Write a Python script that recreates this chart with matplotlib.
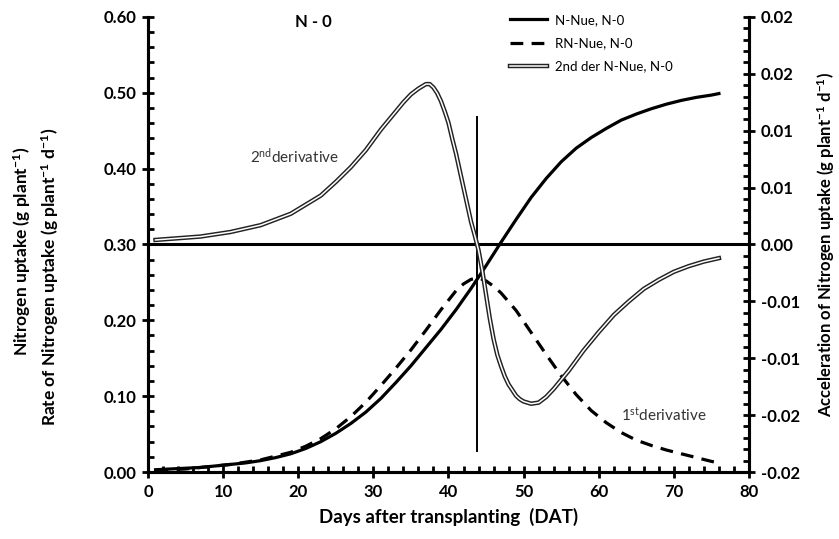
import matplotlib.pyplot as plt
import matplotlib.patheffects as pe
from matplotlib.ticker import MultipleLocator, FixedLocator

plt.rcParams['font.family'] = ['Lato', 'DejaVu Sans']
plt.rcParams['mathtext.fontset'] = 'custom'
plt.rcParams['mathtext.rm'] = 'Lato'
plt.rcParams['mathtext.bf'] = 'Lato:bold'
plt.rcParams['mathtext.default'] = 'rm'

# Cumulative N uptake (g plant-1)
days_n = [1, 3, 5, 7, 9, 11, 13, 15, 17, 19, 21, 23, 25, 27, 29, 31, 33, 35, 37, 39,
          41, 43, 45, 47, 49, 51, 53, 55, 57, 59, 61, 63, 65, 67, 69, 71, 73, 75, 76]
n_uptake = [0.003, 0.004, 0.005, 0.006, 0.008, 0.010, 0.012, 0.015, 0.019, 0.024,
            0.031, 0.040, 0.051, 0.064, 0.079, 0.097, 0.118, 0.140, 0.164, 0.188,
            0.214, 0.242, 0.272, 0.303, 0.333, 0.362, 0.387, 0.409, 0.427, 0.441,
            0.453, 0.464, 0.472, 0.479, 0.485, 0.490, 0.494, 0.497, 0.499]

# Rate of N uptake (g plant-1 d-1)
days_rate = [1, 3, 5, 7, 9, 11, 13, 15, 17, 19, 21, 23, 25, 27, 29, 31, 33, 35, 37,
             39, 41, 42, 43, 44, 45, 46, 47, 49, 51, 53, 55, 57, 59, 61, 63, 65, 67,
             69, 71, 73, 75, 76]
rate_uptake = [0.002, 0.003, 0.004, 0.006, 0.008, 0.010, 0.013, 0.016, 0.021, 0.026,
               0.034, 0.044, 0.057, 0.073, 0.092, 0.114, 0.137, 0.161, 0.187, 0.214,
               0.239, 0.248, 0.254, 0.256, 0.252, 0.245, 0.236, 0.213, 0.184, 0.155,
               0.127, 0.102, 0.081, 0.065, 0.052, 0.042, 0.035, 0.029, 0.024, 0.019,
               0.014, 0.012]

# Acceleration of N uptake (right axis)
days_acc = [1, 3, 5, 7, 9, 11, 13, 15, 17, 19, 21, 23, 25, 27, 29, 31, 33, 34, 35, 36,
            37, 37.5, 38, 38.5, 39, 39.5, 40, 40.5, 41, 41.5, 42, 42.5, 43, 43.5, 44,
            44.5, 45, 45.5, 46, 46.5, 47, 47.5, 48, 48.5, 49, 49.5, 50, 50.5, 51, 52,
            53, 54, 55, 56, 57, 58, 59, 60, 62, 64, 66, 68, 70, 72, 74, 76]
acceleration = [0.0004, 0.0005, 0.0006, 0.0007, 0.0009, 0.0011, 0.0014, 0.0017,
                0.0022, 0.0027, 0.0035, 0.0043, 0.0055, 0.0068, 0.0083, 0.0101,
                0.0117, 0.0125, 0.0132, 0.0137, 0.0141, 0.0141, 0.0138, 0.0133,
                0.0126, 0.0117, 0.0107, 0.0093, 0.0080, 0.0065, 0.0050, 0.0035,
                0.0020, 0.0008, -0.0005, -0.0023, -0.0044, -0.0065, -0.0083, -0.0097,
                -0.0107, -0.0116, -0.0123, -0.0128, -0.0133, -0.0136, -0.0138,
                -0.0139, -0.0140, -0.0139, -0.0134, -0.0127, -0.0119, -0.0111,
                -0.0102, -0.0093, -0.0085, -0.0077, -0.0062, -0.0050, -0.0039,
                -0.0031, -0.0024, -0.0019, -0.0015, -0.0012]

inflection_day = 43.8
inflection_span = (0.027, 0.469)

right_ticks = [-0.02, -0.015, -0.01, -0.005, 0.0, 0.005, 0.01, 0.015, 0.02]
right_tick_labels = ['-0.02', '-0.02', '-0.01', '-0.01', '0.00', '0.01', '0.01', '0.02', '0.02']

fig, ax = plt.subplots(figsize=(8.39, 5.39), dpi=100)
fig.subplots_adjust(left=0.1764, right=0.8927, bottom=0.1243, top=0.9685)
ax2 = ax.twinx()

l1, = ax.plot(days_n, n_uptake, color='black', lw=2.3, solid_joinstyle='round',
              label='N-Nue, N-0')
l2, = ax.plot(days_rate, rate_uptake, color='black', lw=2.3, dashes=(4, 2.6),
              label='RN-Nue, N-0')
l3, = ax2.plot(days_acc, acceleration, color='white', lw=1.1, solid_joinstyle='round',
               label='2nd der N-Nue, N-0',
               path_effects=[pe.Stroke(linewidth=3.2, foreground='#222222',
                                       joinstyle='round'), pe.Normal()])
ax2.axhline(0, color='black', lw=2.2, zorder=1)
ax.vlines(inflection_day, *inflection_span, color='black', lw=1.4)

ax.set_xlim(0, 80)
ax.set_ylim(0, 0.6)
ax2.set_ylim(-0.02, 0.02)

ax.xaxis.set_major_locator(MultipleLocator(10))
ax.xaxis.set_minor_locator(MultipleLocator(2))
ax.yaxis.set_major_locator(MultipleLocator(0.1))
ax.yaxis.set_minor_locator(MultipleLocator(0.02))
ax.yaxis.set_major_formatter(plt.FormatStrFormatter('%.2f'))
ax2.yaxis.set_major_locator(FixedLocator(right_ticks))
ax2.set_yticklabels(right_tick_labels)
ax2.yaxis.set_minor_locator(MultipleLocator(0.001))

for a in (ax, ax2):
    a.spines['top'].set_visible(False)
    for s in ('left', 'right', 'bottom'):
        a.spines[s].set_linewidth(2.2)
    a.tick_params(which='major', direction='inout', length=9, width=2,
                  labelsize=12, pad=4)
    a.tick_params(which='minor', direction='in', length=4, width=2)
    for lab in a.get_xticklabels() + a.get_yticklabels():
        lab.set_fontweight('bold')

ax.set_xlabel('Days after transplanting  (DAT)', fontsize=13.5, fontweight='bold',
              labelpad=6)
fig.text(22 / 839, 0.534, r'Nitrogen uptake (g plant$^{\mathbf{-1}}$)', rotation=90,
         ha='center', va='center', fontsize=12.5, fontweight='bold')
fig.text(50 / 839, 0.486,
         r'Rate of Nitrogen uptake (g plant$^{\mathbf{-1}}$ d$^{\mathbf{-1}}$)',
         rotation=90, ha='center', va='center', fontsize=12.5, fontweight='bold')
fig.text(826 / 839, 0.546,
         r'Acceleration of Nitrogen uptake (g plant$^{\mathbf{-1}}$ d$^{\mathbf{-1}}$)',
         rotation=90, ha='center', va='center', fontsize=12, fontweight='bold')

ax.text(22, 0.594, 'N - 0', ha='center', va='center', fontsize=12, fontweight='bold')
ax.text(13.6, 0.416, r'2$^{\mathrm{nd}}$derivative', ha='left', va='center', fontsize=11,
        color='#333333')
ax.text(62.9, 0.075, r'1$^{\mathrm{st}}$derivative', ha='left', va='center', fontsize=11,
        color='#333333')

ax2.legend(handles=[l1, l2, l3], loc='upper left', frameon=False, fontsize=9.5,
           handlelength=2.8, handletextpad=0.6, labelspacing=0.85, borderpad=0,
           borderaxespad=0, bbox_to_anchor=(510 / 839, 1 - 14 / 539),
           bbox_transform=fig.transFigure)

fig.savefig('out.png', dpi=100)
